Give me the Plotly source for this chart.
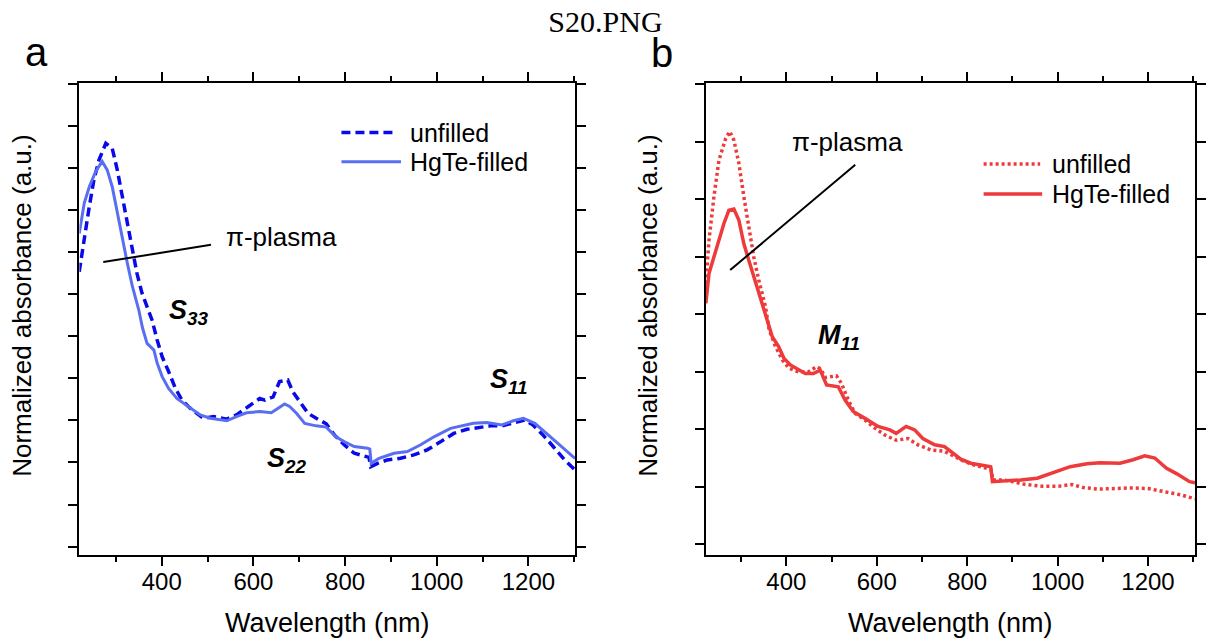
import plotly.graph_objects as go

# ---------------- data ----------------
# Panel a: semiconducting SWCNT film, normalized absorbance
wl_a_unfilled = [220, 231, 242, 252, 263, 278, 292, 303, 314, 325, 336, 346, 357, 372, 379,
                 390, 401, 415, 430, 444, 462, 491, 513, 542, 563, 589, 614, 625, 643, 657,
                 675, 686, 704, 719, 737, 759, 777, 798, 820, 842, 852, 856, 871, 892, 921,
                 950, 979, 1008, 1037, 1066, 1095, 1117, 1142, 1167, 1192, 1210, 1232, 1254,
                 1279, 1302]
abs_a_unfilled = [0.653, 0.736, 0.808, 0.871, 0.918, 0.958, 0.946, 0.895, 0.831, 0.768, 0.705,
                  0.649, 0.602, 0.554, 0.538, 0.491, 0.451, 0.416, 0.376, 0.348, 0.329, 0.305,
                  0.309, 0.303, 0.313, 0.333, 0.352, 0.348, 0.356, 0.392, 0.396, 0.368, 0.341,
                  0.317, 0.305, 0.292, 0.265, 0.242, 0.222, 0.214, 0.212, 0.190, 0.198, 0.206,
                  0.210, 0.218, 0.230, 0.249, 0.269, 0.279, 0.284, 0.287, 0.287, 0.295, 0.301,
                  0.289, 0.265, 0.238, 0.206, 0.182]

wl_a_filled = [220, 231, 242, 256, 270, 281, 292, 303, 314, 325, 336, 350, 358, 368, 383,
               390, 401, 415, 433, 459, 484, 506, 542, 563, 585, 614, 639, 654, 668, 679,
               694, 712, 737, 759, 780, 799, 820, 849, 854, 857, 874, 907, 936, 965, 994,
               1030, 1059, 1080, 1109, 1142, 1167, 1189, 1214, 1240, 1268, 1297, 1302]
abs_a_filled = [0.744, 0.816, 0.855, 0.891, 0.915, 0.895, 0.855, 0.792, 0.728, 0.673, 0.618,
                0.562, 0.520, 0.483, 0.467, 0.436, 0.404, 0.376, 0.352, 0.333, 0.313, 0.305,
                0.299, 0.309, 0.318, 0.321, 0.318, 0.329, 0.339, 0.333, 0.317, 0.293, 0.287,
                0.284, 0.261, 0.249, 0.238, 0.234, 0.232, 0.198, 0.210, 0.222, 0.226, 0.242,
                0.261, 0.281, 0.287, 0.293, 0.295, 0.289, 0.299, 0.305, 0.293, 0.269, 0.242,
                0.214, 0.210]

# Panel b: metallic SWCNT film, normalized absorbance
wl_b_unfilled = [222, 229, 240, 251, 266, 275, 284, 295, 306, 317, 328, 339, 354, 362, 376,
                 391, 406, 427, 449, 467, 476, 486, 511, 522, 537, 552, 574, 596, 618, 643,
                 669, 691, 720, 749, 772, 794, 816, 845, 853, 857, 881, 900, 929, 966, 1002,
                 1032, 1054, 1090, 1127, 1163, 1200, 1237, 1273, 1304]
abs_b_unfilled = [0.454, 0.529, 0.605, 0.668, 0.706, 0.718, 0.703, 0.663, 0.605, 0.552, 0.500,
                  0.460, 0.413, 0.373, 0.344, 0.321, 0.306, 0.300, 0.300, 0.309, 0.305, 0.290,
                  0.293, 0.280, 0.251, 0.228, 0.216, 0.202, 0.190, 0.181, 0.184, 0.173, 0.164,
                  0.162, 0.152, 0.144, 0.138, 0.132, 0.130, 0.112, 0.112, 0.109, 0.104, 0.101,
                  0.101, 0.104, 0.099, 0.096, 0.097, 0.098, 0.097, 0.091, 0.086, 0.079]

wl_b_filled = [222, 229, 240, 251, 262, 273, 284, 295, 306, 317, 328, 339, 354, 369, 383,
               395, 409, 427, 442, 460, 475, 489, 515, 530, 548, 574, 603, 629, 643, 665,
               684, 702, 728, 750, 764, 786, 808, 834, 852, 856, 881, 918, 955, 984, 1028,
               1065, 1094, 1138, 1167, 1193, 1215, 1241, 1263, 1292, 1304]
abs_b_filled = [0.419, 0.471, 0.500, 0.529, 0.558, 0.581, 0.583, 0.564, 0.523, 0.494, 0.465,
                0.437, 0.400, 0.361, 0.344, 0.323, 0.312, 0.303, 0.297, 0.297, 0.303, 0.277,
                0.274, 0.251, 0.231, 0.219, 0.205, 0.199, 0.193, 0.205, 0.199, 0.184, 0.173,
                0.170, 0.161, 0.148, 0.141, 0.138, 0.135, 0.109, 0.110, 0.112, 0.115, 0.123,
                0.135, 0.140, 0.142, 0.141, 0.147, 0.154, 0.150, 0.132, 0.123, 0.109, 0.107]

series_names = ["unfilled", "HgTe-filled"]
x_ticks = [400, 600, 800, 1000, 1200]

# ---------------- styling ----------------
W, H = 1206, 640
SANS = "Liberation Sans, Arial, sans-serif"
SERIF = "Liberation Serif, Times New Roman, serif"
BLUE_DARK = "#0a0ae8"
BLUE_LIGHT = "#5a6ef2"
RED = "#ee3a3a"
DASH_A = "9px,5px"
DOT_B = "3px,3px"


def px(x):
    return x / W


def py(y):
    return 1 - y / H


fig = go.Figure()

fig.add_trace(go.Scatter(x=wl_a_unfilled, y=abs_a_unfilled, name=series_names[0], mode="lines",
                         line=dict(color=BLUE_DARK, width=3.5, dash=DASH_A),
                         xaxis="x", yaxis="y", showlegend=False))
fig.add_trace(go.Scatter(x=wl_a_filled, y=abs_a_filled, name=series_names[1], mode="lines",
                         line=dict(color=BLUE_LIGHT, width=3),
                         xaxis="x", yaxis="y", showlegend=False))
fig.add_trace(go.Scatter(x=wl_b_unfilled, y=abs_b_unfilled, name=series_names[0], mode="lines",
                         line=dict(color=RED, width=3.5, dash=DOT_B),
                         xaxis="x2", yaxis="y2", showlegend=False))
fig.add_trace(go.Scatter(x=wl_b_filled, y=abs_b_filled, name=series_names[1], mode="lines",
                         line=dict(color=RED, width=3.5),
                         xaxis="x2", yaxis="y2", showlegend=False))

frame = dict(showline=True, linewidth=2, linecolor="black", mirror="allticks",
             ticks="outside", tickwidth=2, tickcolor="black", showgrid=False,
             zeroline=False)

xcommon = dict(frame, ticklen=9, tickvals=x_ticks, ticklabelstandoff=-5,
               tickfont=dict(family=SANS, size=24, color="black"),
               minor=dict(dtick=100, tick0=0, ticks="outside", ticklen=5,
                          tickwidth=2, tickcolor="black", showgrid=False))
ycommon = dict(frame, ticklen=9, dtick=0.1, tick0=0, showticklabels=False)

y_dom = [py(555), py(82.7)]
fig.update_layout(
    width=W, height=H,
    margin=dict(l=0, r=0, t=0, b=0),
    paper_bgcolor="white", plot_bgcolor="white",
    xaxis=dict(xcommon, domain=[px(80), px(579.5)], range=[220.4, 1302], anchor="y"),
    yaxis=dict(ycommon, domain=y_dom, range=[-0.0197, 1.102], anchor="x"),
    xaxis2=dict(xcommon, domain=[px(711), px(1204)], range=[221.7, 1304], anchor="y2"),
    yaxis2=dict(ycommon, domain=y_dom, range=[-0.0186, 0.8028], anchor="x2"),
    title=dict(text="S20.PNG", x=px(610), xanchor="center", xref="paper",
               y=py(21), yanchor="middle", yref="container",
               font=dict(family=SERIF, size=30, color="black")),
    showlegend=False,
)

ann = []
shapes = []


def text(x, y, s, size, xanchor="center", yanchor="middle", angle=0, family=SANS):
    ann.append(dict(x=px(x), y=py(y), xref="paper", yref="paper", text=s, showarrow=False,
                    xanchor=xanchor, yanchor=yanchor, textangle=angle,
                    font=dict(family=family, size=size, color="black")))


# panel letters
text(37, 52, "a", 40)
text(667, 53, "b", 40)

# axis titles
for cx, cy in [(22, 305), (652.7, 305)]:
    text(cx, cy, "Normalized absorbance (a.u.)", 26, angle=-90)
for cx in [329.75, 957.5]:
    text(cx, 622.7, "Wavelength (nm)", 27)

# peak labels
text(225.8, 236.5, "π-plasma", 26, xanchor="left")
text(795.7, 141.7, "π-plasma", 26, xanchor="left")
for x0, top, lab, sub in [(168, 292.6, "S", "33"), (266.7, 440.6, "S", "22"),
                          (491.7, 362.3, "S", "11"), (821.7, 317.6, "M", "11")]:
    text(x0, top, f"<b><i>{lab}</i></b><sub><b><i>{sub}</i></b></sub>", 27,
         xanchor="left", yanchor="top")

# pointer lines for the π-plasma labels
shapes.append(dict(type="line", xref="x", yref="y", x0=272.5, y0=0.676, x1=507.4, y1=0.717,
                   line=dict(color="black", width=2)))
shapes.append(dict(type="line", xref="x2", yref="y2", x0=275.9, y0=0.477, x1=552.5, y1=0.660,
                   line=dict(color="black", width=2)))

# legend keys
legend_rows = [
    # (x0, x1, y, text_x, label, color, width, dash)
    (344, 399, 132.5, 411, series_names[0], BLUE_DARK, 3.5, DASH_A),
    (344, 404, 161.7, 411, series_names[1], BLUE_LIGHT, 3, "solid"),
    (991, 1048, 164, 1058, series_names[0], RED, 3.5, DOT_B),
    (991, 1050, 194, 1058, series_names[1], RED, 3.5, "solid"),
]
for x0, x1, yy, tx, lab, col, w, d in legend_rows:
    shapes.append(dict(type="line", xref="paper", yref="paper", x0=px(x0), x1=px(x1),
                       y0=py(yy), y1=py(yy), line=dict(color=col, width=w, dash=d)))
    text(tx, yy, lab, 25, xanchor="left")

fig.update_layout(annotations=ann, shapes=shapes)

fig.write_html("out.html")
